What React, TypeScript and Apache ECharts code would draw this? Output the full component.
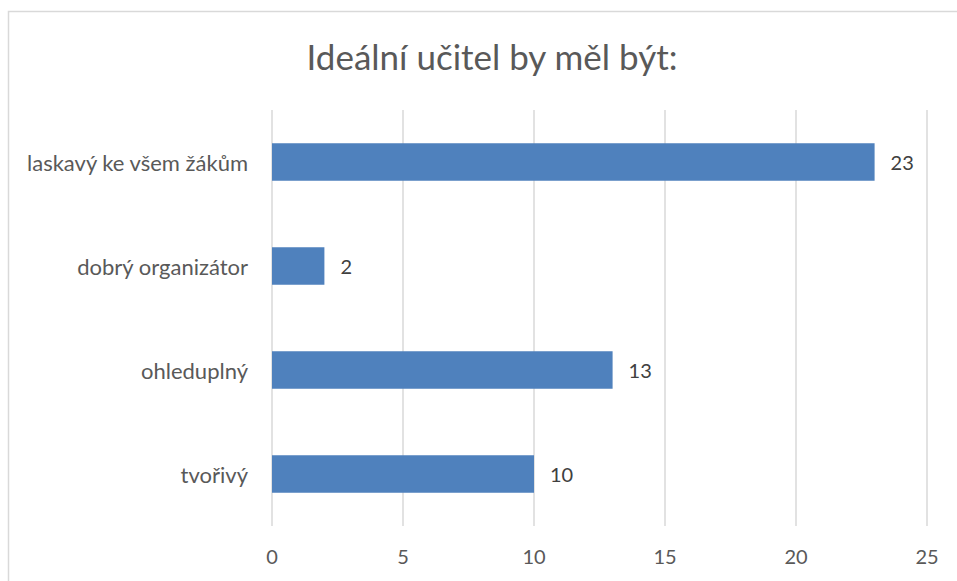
import React, { useEffect, useRef } from "react";
import * as echarts from "echarts";

const titleText = "Ideální učitel by měl být:";
const categories = ["tvořivý", "ohleduplný", "dobrý organizátor", "laskavý ke všem žákům"];
const values = [10, 13, 2, 23];
const axisMin = 0;
const axisMax = 25;
const axisStep = 5;

export default function App() {
  const ref = useRef<HTMLDivElement>(null);
  useEffect(() => {
    if (!ref.current) return;
    const chart = echarts.init(ref.current, null, { renderer: "svg" });
    const font = "Lato, 'Open Sans', sans-serif";
    chart.setOption({
      animation: false,
      backgroundColor: "#ffffff",
      title: {
        text: titleText,
        left: 487,
        top: 33,
        textAlign: "center",
        textStyle: { fontFamily: font, fontSize: 35, fontWeight: "normal", color: "#595959" },
      },
      graphic: [
        {
          type: "rect",
          shape: { x: 8.5, y: 11.5, width: 1000, height: 700 },
          style: { fill: "none", stroke: "#d9d9d9", lineWidth: 1.5 },
          silent: true,
        },
      ],
      grid: { left: 272, right: 30, top: 110, bottom: 55, containLabel: false },
      xAxis: {
        type: "value",
        min: axisMin,
        max: axisMax,
        interval: axisStep,
        axisLine: { show: false },
        axisTick: { show: false },
        splitLine: { show: true, lineStyle: { color: "#d9d9d9", width: 1.5 } },
        axisLabel: { color: "#595959", fontSize: 20, fontFamily: font, margin: 20 },
      },
      yAxis: {
        type: "category",
        data: categories,
        axisLine: { show: false },
        axisTick: { show: false },
        axisLabel: { color: "#595959", fontSize: 22, fontFamily: font, margin: 24 },
      },
      series: [
        {
          type: "bar",
          data: values,
          barCategoryGap: "64%",
          itemStyle: { color: "#4f81bd" },
          label: {
            show: true,
            position: "right",
            distance: 16,
            color: "#404040",
            fontSize: 20,
            fontFamily: font,
          },
        },
      ],
    });
    return () => chart.dispose();
  }, []);
  return (
    <div
      ref={ref}
      style={{ position: "fixed", left: 0, top: 0, width: 957, height: 581 }}
    />
  );
}
